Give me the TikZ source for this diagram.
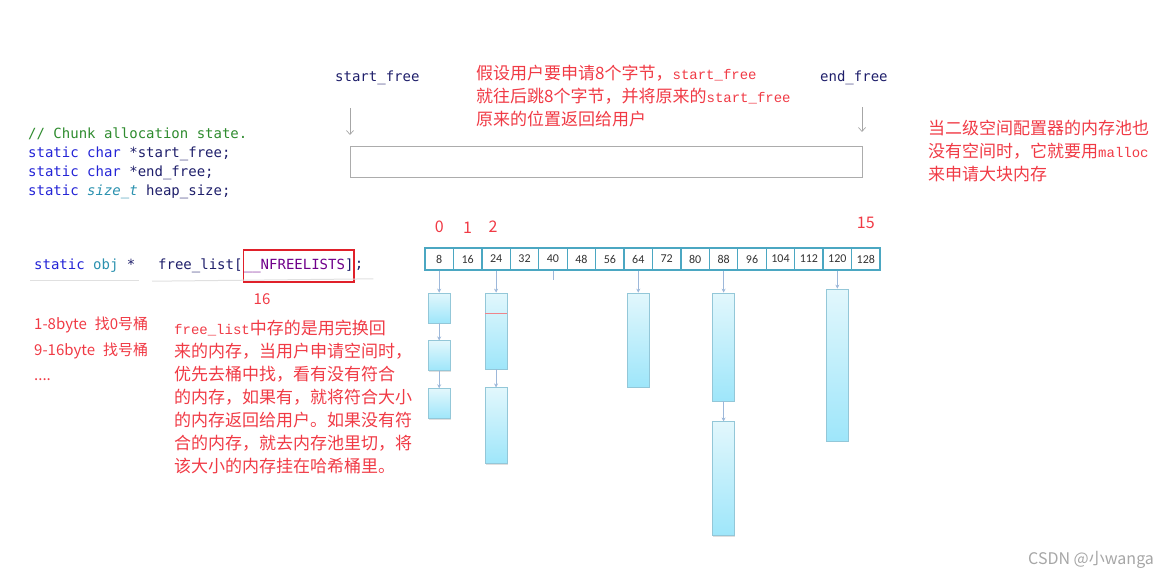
\documentclass[tikz,border=0pt]{standalone}
\usepackage{fontspec}
\usepackage{xcolor}
\usepackage{tikz}
\usetikzlibrary{arrows.meta, positioning, shadows}
\newfontfamily\cjk{Noto Sans CJK SC}
\newfontfamily\codefont{DejaVu Sans Mono}
\newfontfamily\monolat{Liberation Mono}
\newfontfamily\calibri{Carlito}
\definecolor{codeblue}{HTML}{2323D6}
\definecolor{codenavy}{HTML}{1E1E6A}
\definecolor{codegreen}{HTML}{2E8B2E}
\definecolor{codeteal}{HTML}{2B91AF}
\definecolor{codepurple}{HTML}{6F008A}
\definecolor{notered}{HTML}{F03A45}
\definecolor{boxred}{HTML}{E0202A}
\definecolor{cellteal}{HTML}{4BA7C2}
\definecolor{blkline}{HTML}{93C7D8}
\definecolor{blktop}{HTML}{E2F7FC}
\definecolor{blkbot}{HTML}{9EE6FA}
\definecolor{ptrblue}{HTML}{9DB8DA}
\newcommand{\lat}[1]{{\monolat\fontsize{14}{23}\selectfont #1}}

\begin{document}
\begin{tikzpicture}[x=1pt, y=-1pt,
  code/.style={inner sep=0pt, text=codenavy, font=\codefont\fontsize{14}{19}\selectfont},
  note/.style={inner sep=0pt, anchor=north west, align=left, text=notered,
    font=\cjk\fontsize{17}{23}\selectfont},
  idx/.style={inner sep=0pt, text=notered, font=\cjk\fontsize{16}{18}\selectfont},
  cell/.style={rectangle, draw=cellteal, line width=1.3pt, minimum width=28.44pt,
    minimum height=22pt, inner sep=0pt, text=black!80, font=\calibri\fontsize{12}{14}\selectfont},
  blk/.style={rectangle, draw=blkline, line width=0.8pt, top color=blktop, bottom color=blkbot,
    minimum width=22pt, inner sep=0pt,
    drop shadow={opacity=0.25, shadow xshift=0.6pt, shadow yshift=-0.9pt}},
  ptr/.style={draw=ptrblue, line width=0.8pt, -{Stealth[length=4pt, width=4pt]}},
  poolptr/.style={draw=gray!70, line width=0.7pt, -{Straight Barb[length=4pt, width=7pt]}},
  uline/.style={draw=black!12, line width=1pt},
]
  \useasboundingbox (0,0) rectangle (1165,582);

  % chunk state declarations
  \node[code, anchor=north west, align=left] (chunk) at (28,128) {
    {\color{codegreen}// Chunk allocation state.}\\
    {\color{codeblue}static char} *start\_free;\\
    {\color{codeblue}static char} *end\_free;\\
    {\color{codeblue}static} {\color{codeteal}\itshape size\_t} heap\_size;};

  % memory pool
  \node[code, anchor=west] (sflab) at (335,78) {start\_free};
  \node[code, anchor=west] (eflab) at (820,78) {end\_free};
  \coordinate (sftop) at (350,108);
  \coordinate (sfbot) at (350,135);
  \coordinate (eftop) at (862,107);
  \coordinate (efbot) at (862,132);
  \draw[poolptr] (sftop) -- (sfbot);
  \draw[poolptr] (eftop) -- (efbot);
  \node[rectangle, draw=gray!65, line width=0.9pt, minimum width=512pt, minimum height=31pt,
    inner sep=0pt] (pool) at (606,161.5) {};
  \node[note] (jumpnote) at (476,65) {
    假设用户要申请8个字节，\lat{start\_free}\\
    就往后跳8个字节，并将原来的\lat{start\_free}\\
    原来的位置返回给用户};
  \node[note] (mallocnote) at (928,120) {
    当二级空间配置器的内存池也\\
    没有空间时，它就要用\lat{malloc}\\
    来申请大块内存};

  % free list declaration
  \node[code, anchor=west] (decl) at (34,266) {{\color{codeblue}static} {\color{codeteal}obj} *};
  \node[code, anchor=west] (flist) at (158,266) {free\_list[};
  \node[code, right=0pt of flist, draw=boxred, line width=1.4pt, minimum height=32pt,
    inner xsep=0.5pt] (nfl) {{\color{codepurple}\_\_NFREELISTS}]};
  \node[code, right=0pt of nfl] (semi) {;};
  \draw[uline] ([shift={(-4pt,-8pt)}]decl.south west) -- ([shift={(3pt,-8pt)}]decl.south east);
  \draw[uline] ([shift={(-6pt,-8pt)}]flist.south west) -- ([shift={(10pt,-8pt)}]semi.south east);
  \node[idx, font=\cjk\fontsize{15}{18}\selectfont] (n16) at (262,299) {16};

  \node[note, font=\cjk\fontsize{15}{25.5}\selectfont] (bucketnote) at (34,317) {
    1-8byte\hspace{8pt}找0号桶\\
    9-16byte\hspace{8pt}找号桶\\
    ....};
  \node[note] (listnote) at (174,320) {
    \lat{free\_list}中存的是用完换回\\
    来的内存，当用户申请空间时，\\
    优先去桶中找，看有没有符合\\
    的内存，如果有，就将符合大小\\
    的内存返回给用户。如果没有符\\
    合的内存，就去内存池里切，将\\
    该大小的内存挂在哈希桶里。};

  % hash buckets
  \foreach \v [count=\i from 0] in {8,16,...,128}
    \node[cell] (c\i) at ({439.2+28.44*\i},259) {\v};
  \node[idx, above=14pt of c0] (i0) {0};
  \node[idx, above=14pt of c1] (i1) {1};
  \node[idx, above=15pt of c2, xshift=-3pt] (i2) {2};
  \node[idx, above=18pt of c15] (i15) {15};
  \coordinate[below=9pt of c4] (tickend);
  \draw[draw=ptrblue, line width=0.6pt] (c4.south) -- (tickend);

  \node[blk, minimum height=30pt, below=22pt of c0] (b0a) {};
  \node[blk, minimum height=30pt, below=17pt of b0a] (b0b) {};
  \node[blk, minimum height=30pt, below=17pt of b0b] (b0c) {};
  \node[blk, minimum height=76pt, below=22pt of c2] (b2a) {};
  \node[blk, minimum height=76pt, below=18pt of b2a] (b2b) {};
  \node[blk, minimum height=94pt, below=22pt of c7] (b7) {};
  \node[blk, minimum height=108pt, below=22pt of c10] (b10a) {};
  \node[blk, minimum height=114pt, below=20pt of b10a] (b10b) {};
  \node[blk, minimum height=152pt, below=18pt of c14] (b14) {};
  \draw[draw=boxred!55, line width=1.2pt] ([shift={(0.6pt,-21pt)}]b2a.north west) -- ([shift={(-0.6pt,-21pt)}]b2a.north east);

  \foreach \a/\b in {c0/b0a, b0a/b0b, b0b/b0c, c2/b2a, b2a/b2b, c7/b7, c10/b10a, b10a/b10b, c14/b14}
    \draw[ptr] (\a) -- (\b);

  \node[anchor=west, inner sep=0pt, text=gray!70, font=\cjk\fontsize{16}{18}\selectfont] (mark) at (1028,560) {CSDN @小wanga};
\end{tikzpicture}
\end{document}
